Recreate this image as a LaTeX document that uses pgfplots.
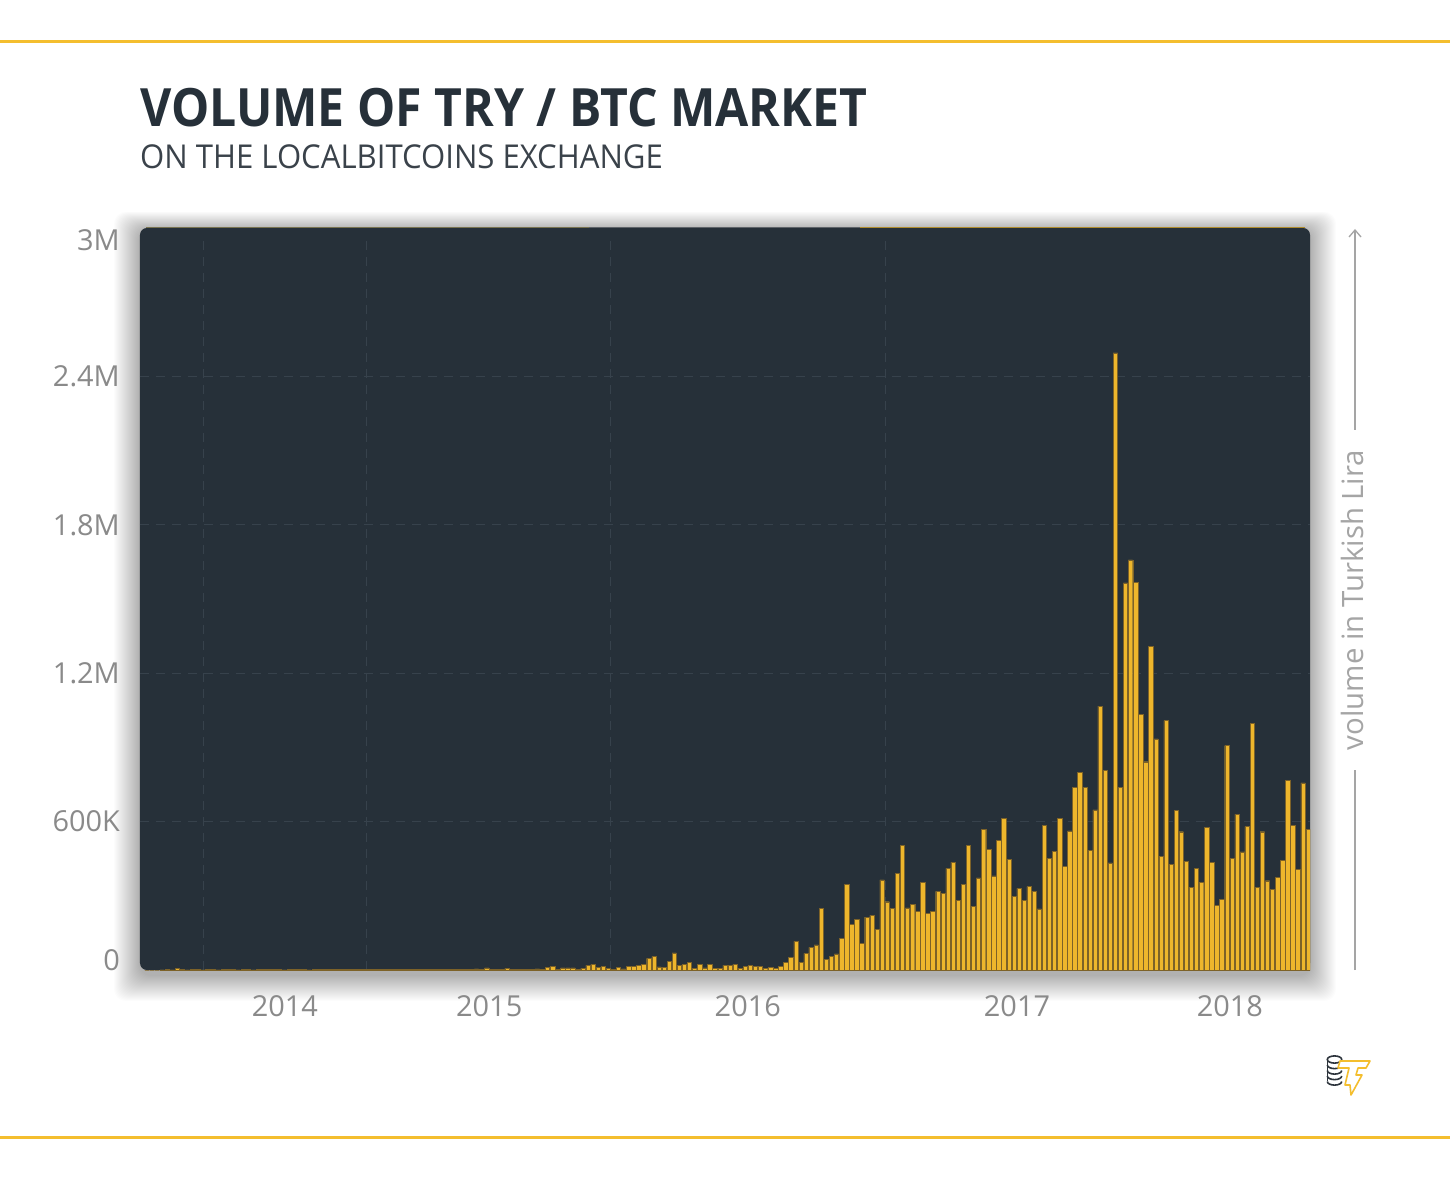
\documentclass[border=0pt]{standalone}
\usepackage{fontspec}
\setmainfont{Open Sans}
\usepackage{graphicx}
\usepackage{pgfplots}
\pgfplotsset{compat=1.18}
\usepackage{pgfplotstable}
\definecolor{darkbg}{RGB}{38,48,57}
\definecolor{baryel}{RGB}{238,182,44}
\definecolor{baredge}{RGB}{125,98,40}
\definecolor{tickgray}{RGB}{138,138,138}
\definecolor{titlec}{RGB}{38,48,57}
\definecolor{subc}{RGB}{58,66,74}
\definecolor{lineyel}{RGB}{244,190,46}
\definecolor{gridc}{RGB}{55,66,76}
\definecolor{axgray}{RGB}{165,165,165}

\pgfplotstableread{
i v
0 0
1 0
2 0
3 1
4 2
5 1
6 6
7 2
8 1
9 2
10 2
11 1
12 2
13 2
14 1
15 2
16 2
17 2
18 1
19 2
20 2
21 1
22 2
23 2
24 3
25 2
26 2
27 1
28 2
29 2
30 2
31 2
32 1
33 2
34 2
35 2
36 3
37 2
38 2
39 2
40 3
41 2
42 2
43 3
44 2
45 2
46 3
47 3
48 2
49 3
50 2
51 3
52 3
53 2
54 3
55 3
56 2
57 3
58 3
59 2
60 3
61 2
62 2
63 4
64 4
65 5
66 3
67 9
68 4
69 3
70 2
71 7
72 2
73 3
74 3
75 4
76 3
77 5
78 3
79 11
80 15
81 3
82 9
83 9
84 9
85 4
86 8
87 19
88 23
89 11
90 16
91 8
92 4
93 11
94 5
95 16
96 16
97 20
98 24
99 47
100 54
101 13
102 12
103 35
104 69
105 19
106 22
107 31
108 7
109 22
110 9
111 24
112 7
113 7
114 19
115 19
116 23
117 8
118 16
119 20
120 16
121 16
122 7
123 11
124 7
125 15
126 30
127 51
128 116
129 31
130 67
131 92
132 102
133 249
134 43
135 54
136 65
137 127
138 346
139 185
140 205
141 108
142 214
143 221
144 164
145 364
146 276
147 249
148 391
149 504
150 251
151 266
152 237
153 355
154 229
155 236
156 318
157 309
158 411
159 435
160 283
161 346
162 503
163 257
164 372
165 569
166 488
167 381
168 524
169 613
170 446
171 298
172 330
173 282
174 337
175 317
176 247
177 584
178 452
179 480
180 613
181 420
182 563
183 739
184 799
185 739
186 484
187 647
188 1067
189 807
190 433
191 2495
192 739
193 1565
194 1658
195 1568
196 1034
197 842
198 1309
199 934
200 460
201 1008
202 427
203 646
204 559
205 439
206 334
207 410
208 353
209 577
210 435
211 262
212 286
213 907
214 452
215 629
216 478
217 580
218 996
219 334
220 559
221 361
222 325
223 375
224 443
225 767
226 586
227 407
228 757
229 570
}\voldata

\begin{document}
\begin{tikzpicture}[x=1bp,y=1bp]
\begin{scope}[shift={(-140,-210)}]
\useasboundingbox (0,0) rectangle (1450,1180);
\fill[white] (0,0) rectangle (1450,1180);
% yellow rules
\fill[lineyel] (0,1136.5) rectangle (1450,1139.5);
\fill[lineyel] (0,41.5) rectangle (1450,44.5);
% title
\node[anchor=base west, inner sep=0pt, text=titlec] at (140,1053)
  {\scalebox{0.912}[1]{\fontsize{53}{60}\selectfont\bfseries VOLUME OF TRY / BTC MARKET}};
\node[anchor=base west, inner sep=0pt, text=subc] at (140,1011)
  {\scalebox{0.946}[1]{\fontsize{33}{38}\selectfont ON THE LOCALBITCOINS EXCHANGE}};
% shadow
\foreach \k in {1,...,26} {
  \fill[black, opacity=0.011, rounded corners=12] (140-\k,205-\k) rectangle (1310+\k,950+\k*0.7);
}
\end{scope}
\begin{axis}[
  scale only axis,
  width=1170bp, height=742bp,
  xmin=-1.38, xmax=229.4, ymin=0, ymax=3000,
  axis line style={draw=none},
  axis background/.style={fill=darkbg, rounded corners=7bp},
  ytick={40,600,1200,1800,2400,2952},
  yticklabels={0,600K,1.2M,1.8M,2.4M,3M},
  xtick={27.2,67.5,118.5,171.6,213.6},
  xticklabels={2014,2015,2016,2017,2018},
  major tick length=0,
  /pgf/number format/assume math mode=true,
  tick label style={font=\fontsize{29}{32}\selectfont, text=tickgray},
  yticklabel style={anchor=east, inner sep=0pt, xshift=-20bp},
  xticklabel style={anchor=north, inner sep=0pt, yshift=-25bp},
  clip=true,
]
\draw[gridc, line width=1bp, dash pattern=on 9bp off 7bp] (axis cs:-1.38,600) -- (axis cs:229.4,600);
\draw[gridc, line width=1bp, dash pattern=on 9bp off 7bp] (axis cs:-1.38,1200) -- (axis cs:229.4,1200);
\draw[gridc, line width=1bp, dash pattern=on 9bp off 7bp] (axis cs:-1.38,1800) -- (axis cs:229.4,1800);
\draw[gridc, line width=1bp, dash pattern=on 9bp off 7bp] (axis cs:-1.38,2400) -- (axis cs:229.4,2400);
\draw[gridc, line width=1bp, dash pattern=on 9bp off 7bp] (axis cs:11.14,0) -- (axis cs:11.14,2960);
\draw[gridc, line width=1bp, dash pattern=on 9bp off 7bp] (axis cs:43.27,0) -- (axis cs:43.27,2960);
\draw[gridc, line width=1bp, dash pattern=on 9bp off 7bp] (axis cs:91.4,0) -- (axis cs:91.4,2960);
\draw[gridc, line width=1bp, dash pattern=on 9bp off 7bp] (axis cs:145.6,0) -- (axis cs:145.6,2960);
\addplot[ybar, bar width=0.86, fill=baryel, draw=baredge, line width=0.4bp] table[x=i, y=v] {\voldata};
\end{axis}
\begin{scope}[shift={(-140,-210)}]
% top edge accents
\draw[line width=1.2bp, color={rgb,255:red,120;green,115;blue,80}] (146,952.6) -- (589,952.6);
\draw[line width=1.2bp, color={rgb,255:red,95;green,100;blue,105}] (589,952.6) -- (860,952.6);
\draw[line width=1.2bp, color={rgb,255:red,175;green,140;blue,45}] (860,952.6) -- (1305,952.6);
% right axis label with arrow
\draw[axgray, line width=1.3bp] (1355,210) -- (1355,410);
\draw[axgray, line width=1.3bp] (1355,750) -- (1355,950);
\draw[axgray, line width=1.3bp] (1349,943) -- (1355,950) -- (1361,943);
\node[rotate=90, text=axgray, inner sep=0pt] at (1352,580)
  {\fontsize{29.5}{33}\selectfont volume in Turkish Lira};
% logo
\begin{scope}[line width=1.6bp, draw={rgb,255:red,45;green,52;blue,60}]
  \draw (1334.5,120.5) ellipse (7.2 and 3.6);
  \draw (1327.3,120.5) -- (1327.3,99);
  \draw (1327.3,115) arc (180:360:7.2 and 3.6);
  \draw (1327.3,109.5) arc (180:360:7.2 and 3.6);
  \draw (1327.3,104) arc (180:360:7.2 and 3.6);
  \draw (1327.3,98.5) arc (180:360:7.2 and 3.6);
\end{scope}
\filldraw[fill=white, draw=lineyel, line width=1.6bp, line join=round]
  (1340,119) -- (1370,119) -- (1366,112) -- (1358,112) -- (1356,105) -- (1362,105)
  -- (1351,85) -- (1350,95) -- (1345,95) -- (1349,112) -- (1338,112) -- cycle;
\end{scope}
\end{tikzpicture}
\end{document}
